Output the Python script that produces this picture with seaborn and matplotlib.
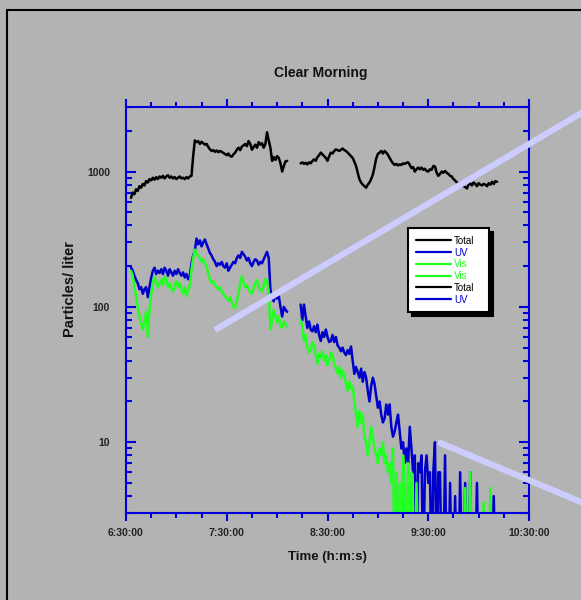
import numpy as np
import pandas as pd
import matplotlib
matplotlib.use("Agg")
import matplotlib.pyplot as plt
import matplotlib.dates as mdates
from matplotlib.lines import Line2D
from matplotlib.patches import Rectangle
from matplotlib.ticker import LogLocator, FuncFormatter, NullFormatter
import seaborn as sns

# ---------------- data (minutes after 6:30:00, one sample per minute) ----------------
seg1_start = 3
seg2_start = 104

total_seg1 = [640, 700, 680, 740, 720, 780, 760, 810, 790, 850,
              830, 880, 860, 900, 870, 910, 880, 920, 900, 930,
              890, 920, 940, 900, 920, 890, 910, 880, 900, 920,
              890, 900, 880, 910, 890, 920, 930, 1300, 1700, 1650,
              1680, 1600, 1660, 1620, 1580, 1600, 1520, 1460, 1420, 1440,
              1400, 1430, 1390, 1420, 1400, 1370, 1350, 1320, 1360, 1300,
              1290, 1340, 1380, 1450, 1500, 1440, 1530, 1560, 1600, 1540,
              1680, 1600, 1450, 1520, 1580, 1500, 1650, 1580, 1620, 1500,
              1600, 1950, 1700, 1500, 1200, 1280, 1220, 1300, 1260, 1150,
              1000, 1100, 1190, 1200]
total_seg2 = [1150, 1170, 1140, 1160, 1130, 1170, 1150, 1200, 1230, 1200,
              1280, 1320, 1380, 1340, 1300, 1260, 1200, 1300, 1380, 1360,
              1420, 1460, 1440, 1420, 1450, 1480, 1440, 1420, 1380, 1340,
              1300, 1260, 1180, 1100, 980, 880, 830, 800, 780, 760,
              800, 830, 880, 950, 1080, 1250, 1350, 1380, 1420, 1360,
              1420, 1380, 1330, 1260, 1200, 1150, 1120, 1140, 1110, 1130,
              1120, 1150, 1140, 1160, 1170, 1120, 1060, 1080, 1000, 1040,
              1070, 1040, 1070, 1030, 1050, 1010, 1000, 1040, 1030, 1100,
              1090, 980, 930, 960, 1000, 980, 1010, 980, 960, 930,
              920, 880, 860, 830, 820, 800, 790, 780, 770, 750,
              800, 820, 790, 830, 810, 780, 820, 800, 790, 810,
              800, 780, 820, 800, 840, 810, 850, 840]

uv_seg1 = [195, 185, 170, 158, 150, 135, 140, 125, 135, 140,
           118, 140, 165, 185, 195, 175, 185, 178, 190, 175,
           195, 185, 170, 190, 180, 170, 185, 175, 190, 178,
           170, 180, 165, 175, 160, 170, 210, 240, 260, 320,
           290, 310, 280, 300, 315, 290, 270, 250, 240, 225,
           215, 200, 210, 205, 215, 200, 195, 210, 185, 195,
           205, 215, 210, 230, 240, 230, 255, 245, 235, 220,
           230, 210, 200, 215, 225, 220, 205, 215, 210, 225,
           240, 255, 230, 135, 115, 110, 125, 115, 120, 100,
           85, 100, 95, 92]
uv_seg2 = [104, 80, 104, 85, 70, 78, 68, 66, 72, 65,
           74, 62, 56, 65, 60, 68, 60, 55, 56, 62,
           55, 60, 52, 50, 47, 50, 46, 44, 48, 45,
           51, 40, 32, 36, 33, 30, 35, 28, 33, 30,
           24, 20, 26, 30, 27, 22, 18, 20, 16, 14,
           15, 19, 16, 19, 13, 11, 12, 14, 16, 12,
           9, 10, 7, 9, 7, 13, 9, 6, 8, 1,
           7, 6, 8, 1, 6, 8, 5, 6, 1, 6,
           10, 1, 6, 6, 1, 1, 8, 1, 1, 5,
           1, 1, 4, 1, 1, 6, 1, 1, 5, 1,
           1, 6, 1, 1, 1, 5, 1, 1, 1, 1,
           1, 1, 1, 1, 1, 4, 1]

vis_seg1 = [185, 170, 140, 120, 100, 85, 75, 68, 80, 92,
            60, 95, 125, 150, 168, 150, 140, 150, 160, 145,
            168, 160, 140, 150, 135, 130, 145, 155, 140, 150,
            135, 125, 140, 120, 135, 142, 190, 230, 265, 250,
            240, 230, 215, 225, 210, 200, 175, 160, 150, 155,
            145, 140, 135, 140, 130, 125, 120, 115, 112, 118,
            108, 100, 98, 110, 125, 150, 168, 150, 140, 145,
            135, 128, 125, 140, 150, 158, 140, 135, 130, 145,
            160, 155, 130, 68, 80, 95, 85, 77, 85, 72,
            70, 78, 74, 72]
vis_seg2 = [80, 72, 56, 62, 50, 46, 48, 55, 52, 44,
            38, 45, 42, 47, 40, 44, 37, 40, 46, 44,
            38, 35, 32, 36, 30, 34, 31, 27, 24, 28,
            25, 26, 20, 16, 13, 17, 14, 16, 11, 10,
            8, 10, 13, 11, 9, 8, 7, 9, 8, 10,
            7, 8, 6, 7, 5, 9, 1, 6, 1, 5,
            1, 8, 4.5, 1, 7, 1, 6, 1, 1, 5,
            1, 1, 1, 1, 1, 1, 1, 1, 1, 1,
            1, 1, 1, 1, 1, 1, 1, 1, 1, 1,
            1, 1, 1, 1, 1, 1, 1, 1, 4.6, 1,
            1, 6, 1, 1, 1, 1, 1, 1, 1, 3.6,
            1, 1, 1, 4.6, 1, 1, 1]

series_names = ["Total", "UV", "Vis"]
series_colors = {"Total": "#000000", "UV": "#0000CC", "Vis": "#22FF22"}
legend_labels = ["Total", "UV", "Vis", "Vis", "Total", "UV"]

# ---------------- build long table ----------------
base = pd.Timestamp("2000-01-01 06:30:00")


def make(name, seg, start, vals):
    t = base + pd.to_timedelta(np.arange(start, start + len(vals)), unit="m")
    return pd.DataFrame({"time": t, "value": vals, "series": name, "seg": f"{name}-{seg}"})


df = pd.concat([
    make("Total", 1, seg1_start, total_seg1),
    make("Total", 2, seg2_start, total_seg2),
    make("UV", 1, seg1_start, uv_seg1),
    make("UV", 2, seg2_start, uv_seg2),
    make("Vis", 1, seg1_start, vis_seg1),
    make("Vis", 2, seg2_start, vis_seg2),
], ignore_index=True)

# ---------------- style ----------------
sns.set_theme(style="white")
plt.rcParams["font.family"] = ["Liberation Sans", "DejaVu Sans"]
plt.rcParams["font.weight"] = "bold"

GRAY = "#B3B3B3"
AXBLUE = "#0000DD"
W, H = 581, 600

fig = plt.figure(figsize=(W / 100, H / 100), dpi=100, facecolor=GRAY)
ax = fig.add_axes([126 / W, 1 - 513 / H, 403 / W, 406 / H])
ax.set_facecolor(GRAY)

sns.lineplot(data=df, x="time", y="value", hue="series", units="seg",
             estimator=None, sort=False, hue_order=series_names,
             palette=series_colors, linewidth=1.8, legend=False, ax=ax)

ax.set_yscale("log")
ax.set_ylim(3, 3000)
ax.set_xlim(base, base + pd.Timedelta(hours=4))

ax.xaxis.set_major_locator(mdates.MinuteLocator(byminute=[30]))
ax.xaxis.set_minor_locator(mdates.MinuteLocator(byminute=[0, 15, 45]))
ax.xaxis.set_major_formatter(mdates.DateFormatter("%-H:%M:%S"))
ax.yaxis.set_major_locator(LogLocator(base=10))
ax.yaxis.set_minor_locator(LogLocator(base=10, subs=range(2, 10)))
ax.yaxis.set_major_formatter(FuncFormatter(lambda v, p: f"{v:g}"))
ax.yaxis.set_minor_formatter(NullFormatter())

ax.tick_params(axis="x", which="both", direction="out", bottom=True, top=True,
               color=AXBLUE, width=1.5, labelsize=7.5, labelcolor="#222222", pad=5)
ax.tick_params(axis="x", which="major", length=5.6)
ax.tick_params(axis="x", which="minor", length=3.6)
ax.tick_params(axis="y", which="both", direction="in", left=True, right=True,
               color=AXBLUE, width=1.5, labelsize=7.5, labelcolor="#222222", pad=11.5)
ax.tick_params(axis="y", which="major", length=7.2)
ax.tick_params(axis="y", which="minor", length=4.4)

for s in ax.spines.values():
    s.set_color(AXBLUE)
    s.set_linewidth(1.5)

ax.set_title("Clear Morning", fontsize=10, fontweight="bold", color="#111111",
             x=(321 - 126) / 403, y=1 + (107 - 77) / 406, pad=0)
ax.set_xlabel("Time (h:m:s)", fontsize=9.5, fontweight="bold", color="#111111")
ax.set_ylabel("Particles/ liter", fontsize=10.5, fontweight="bold", color="#111111")
ax.xaxis.set_label_coords(0.5, (513 - 551) / 406)
ax.yaxis.set_label_coords((77 - 126) / 403, (513 - 289) / 406)

# ---------------- legend ----------------
handles = [Line2D([], [], color=series_colors[l], lw=1.6) for l in legend_labels]
leg = ax.legend(handles, legend_labels, loc="upper left",
                bbox_to_anchor=((408 - 126) / 403, (513 - 228) / 406, 81 / 403, 0.0),
                mode="expand",
                frameon=True, fancybox=False, framealpha=1,
                shadow={"ox": 3, "oy": -3, "color": "black", "alpha": 1},
                prop={"size": 7, "weight": "normal"}, handlelength=3.6,
                handletextpad=0.35, labelspacing=0.18, borderpad=0.8,
                borderaxespad=0, labelcolor="linecolor")
leg.get_frame().set_edgecolor("black")
leg.get_frame().set_linewidth(1.5)
leg.get_frame().set_facecolor("white")

# ---------------- decorations: outer frame and lavender strokes ----------------
fig.add_artist(Rectangle((7 / W, -1), 5, 2 - 10 / H, transform=fig.transFigure,
                         fill=False, edgecolor="black", linewidth=1.5))
fig.add_artist(Line2D([215 / W, 600 / W], [1 - 330 / H, 1 - 102 / H],
                      transform=fig.transFigure, color="#CCCCFF", lw=4.5,
                      solid_capstyle="butt", zorder=5))
fig.add_artist(Line2D([438 / W, 600 / W], [1 - 442 / H, 1 - 510 / H],
                      transform=fig.transFigure, color="#CCCCFF", lw=4.5,
                      solid_capstyle="butt", zorder=5))

fig.savefig("out.png", dpi=100, facecolor=GRAY)
